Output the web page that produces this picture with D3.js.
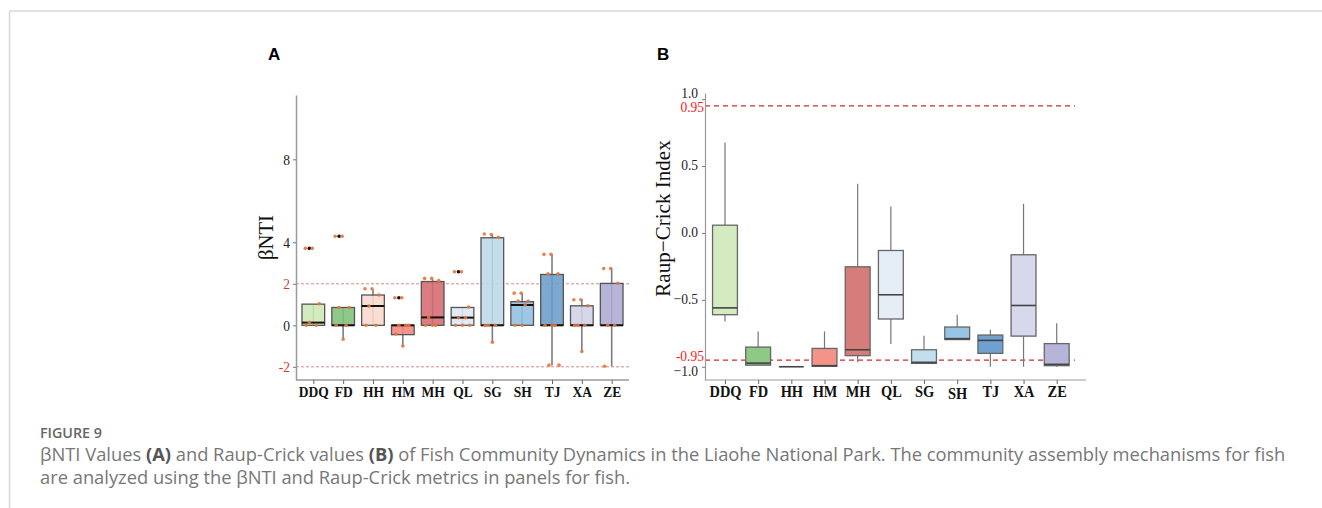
<!DOCTYPE html>
<html>
<head>
<meta charset="utf-8">
<script src="https://cdn.jsdelivr.net/npm/d3@7/dist/d3.min.js"></script>
<style>
  html, body { margin: 0; padding: 0; background: #fff; }
  svg { display: block; }
</style>
</head>
<body>
<svg id="fig" width="1322" height="508"></svg>
<script>
// Sampling sites
const categories = ["DDQ", "FD", "HH", "HM", "MH", "QL", "SG", "SH", "TJ", "XA", "ZE"];

// Panel A: βNTI box statistics per site
const ntiLow    = [0,    -0.67, 0,    -1.02, 0,    0,    -0.82, 0,    -1.94, -1.26, -1.98];
const ntiQ1     = [0,     0,    0,    -0.45, 0,    0,     0,    0,     0,     0,     0];
const ntiMedian = [0.13,  0,    0.93,  0,    0.38, 0.37,  0,    0.98,  0,     0,     0];
const ntiQ3     = [1.02,  0.86, 1.46,  0,    2.11, 0.86,  4.22, 1.14,  2.45,  0.94,  2.02];
const ntiHigh   = [1.02,  0.86, 1.74,  0,    2.24, 0.86,  4.37, 1.54,  3.42,  1.25,  2.74];
const ntiOutliers = [[3.71], [4.29], [], [1.33], [], [2.58], [], [], [], [], []];
// Panel A: individual βNTI values per site
const ntiPoints = [
  [3.71, 3.71, 1.04, 0.15, 0, 0],
  [4.29, 4.29, 0.86, 0.86, 0, 0, -0.67],
  [1.76, 1.76, 1.46, 0.93, 0, 0],
  [1.33, 1.33, 0, 0, 0, -0.42, -1.0],
  [2.26, 2.26, 2.16, 0.38, 0, 0, 0],
  [2.58, 2.58, 0.88, 0.37, 0.37, 0, 0, 0],
  [4.40, 4.37, 4.24, 0, 0, 0, -0.82],
  [1.55, 1.55, 1.17, 1.17, 0.99, 0, 0],
  [3.42, 3.42, 2.48, 2.48, 0, 0, 0, -1.92, -1.92],
  [1.23, 1.23, 0.94, 0, 0, 0, -1.26],
  [2.74, 2.74, 2.03, 0, 0, -1.97]
];
const ntiTicks = [-2, 0, 2, 4, 8];
const ntiThresholds = [-2, 2];

// Panel B: Raup–Crick box statistics per site
const rcLow    = [-0.661, -0.99,  -1.0, -0.997, -0.967, -0.83,  -0.975, -0.80,  -1.0,   -1.0,   -1.0];
const rcQ1     = [-0.611, -0.988, -1.0, -0.997, -0.917, -0.643, -0.975, -0.797, -0.90,  -0.771, -0.992];
const rcMedian = [-0.56,  -0.973, -1.0, -0.992, -0.873, -0.462, -0.967, -0.79,  -0.803, -0.542, -0.982];
const rcQ3     = [0.058,  -0.853, -1.0, -0.863, -0.253, -0.131, -0.873, -0.703, -0.763, -0.163, -0.827];
const rcHigh   = [0.676,  -0.736, -1.0, -0.736,  0.367,  0.198, -0.768, -0.611, -0.723,  0.218, -0.675];
const rcTicks = [-1.0, -0.5, 0.0, 0.5, 1.0];
const rcTickLabels = ["\u22121.0", "\u22120.5", "0.0", "0.5", "1.0"];
const rcThresholds = [-0.95, 0.95];
const rcThresholdLabels = ["-0.95", "0.95"];

// Site colours
const fillA = ["#cde8b5", "#80c27a", "#fbdacd", "#f2857a", "#d56a70", "#dce8f3",
               "#bcd8ea", "#8fbfe0", "#6b9dcb", "#d0d1e7", "#aeaad3"];
const fillB = ["#d3ebbf", "#8ec985", "#d9d9d9", "#f5938a", "#d67d7b", "#e5edf7",
               "#c3dfef", "#98c5e5", "#6fa0d0", "#d8d8ec", "#b6b4d9"];

const svg = d3.select("#fig");
const serif = "'Liberation Serif', 'DejaVu Serif', serif";
const sans = "'Liberation Sans', Arial, sans-serif";
const stretch = 1.12;   // axis lettering is drawn slightly tall

// resize a text element so its rendered width matches a target width
function fitWidth(sel, target) {
  const fs = parseFloat(sel.attr("font-size"));
  const w = sel.node().getBBox().width;
  const nf = w > 0 ? fs * target / w : fs;
  sel.attr("font-size", nf);
  return nf;
}

// Page frame
svg.append("line").attr("x1", 9.5).attr("x2", 1322).attr("y1", 11).attr("y2", 11)
  .attr("stroke", "#d9d9d9").attr("stroke-width", 1.5);
svg.append("line").attr("x1", 9.5).attr("x2", 9.5).attr("y1", 11).attr("y2", 508)
  .attr("stroke", "#d9d9d9").attr("stroke-width", 1.5);

// ---------- Panel A ----------
const xA = d3.scalePoint().domain(categories).range([298.4, 626.6]).padding(0.5);
const yA = d3.scaleLinear().domain([-2.636, 11.1]).range([380, 95]);
const bwA = xA.step() * 0.76;
const gA = svg.append("g");

gA.append("text").attr("x", 268).attr("y", 60).text("A")
  .attr("font-family", sans).attr("font-weight", "bold").attr("font-size", 17);

// threshold lines
gA.selectAll("line.thr").data(ntiThresholds).join("line")
  .attr("x1", 296).attr("x2", 629)
  .attr("y1", d => yA(d)).attr("y2", d => yA(d))
  .attr("stroke", "#d98a8a").attr("stroke-width", 1).attr("stroke-dasharray", "3,2");

// axes
const axA = gA.append("g").attr("transform", "translate(296,0)")
  .call(d3.axisLeft(yA).tickValues(ntiTicks).tickFormat(d => String(d)).tickSize(3).tickPadding(3).tickSizeOuter(0));
axA.select(".domain").attr("stroke", "#9a9a9a").attr("stroke-width", 1.5);
axA.selectAll(".tick line").attr("stroke", "#777");
axA.selectAll(".tick text").attr("font-family", serif).attr("font-size", 13.5)
  .attr("fill", d => ntiThresholds.includes(d) ? "#d03a3a" : "#222")
  .attr("dy", 0).attr("transform", `translate(0,4.8) scale(1,${stretch})`);

const axAx = gA.append("g").attr("transform", "translate(0,380)")
  .call(d3.axisBottom(xA).tickSize(4).tickPadding(4).tickSizeOuter(0));
axAx.select(".domain").attr("stroke", "#9a9a9a").attr("stroke-width", 1.5)
  .attr("d", "M296,0H629");
axAx.selectAll(".tick line").attr("stroke", "#666");
axAx.selectAll(".tick text").attr("font-family", serif).attr("font-size", 13.5)
  .attr("font-weight", "bold").attr("fill", "#111");
{
  const fs = fitWidth(axAx.select(".tick text"), 30);
  axAx.selectAll(".tick text").attr("font-size", fs)
    .attr("y", 0).attr("dy", 0).attr("transform", `translate(0,17) scale(1,${stretch})`);
}

const yLabA = gA.append("text").attr("transform", `translate(273,237.5) rotate(-90)`)
  .attr("text-anchor", "middle").attr("font-family", serif).attr("font-size", 21)
  .attr("fill", "#111").text("βNTI");
fitWidth(yLabA, 45);

// boxes
const boxesA = gA.selectAll("g.box").data(categories).join("g")
  .attr("transform", d => `translate(${xA(d)},0)`);
boxesA.append("line")
  .attr("y1", (d, i) => yA(ntiLow[i])).attr("y2", (d, i) => yA(ntiHigh[i]))
  .attr("stroke", "#666").attr("stroke-width", 1.6).attr("stroke-opacity", 0.85);
boxesA.append("rect")
  .attr("x", -bwA / 2).attr("width", bwA)
  .attr("y", (d, i) => yA(ntiQ3[i]))
  .attr("height", (d, i) => Math.max(0, yA(ntiQ1[i]) - yA(ntiQ3[i])))
  .attr("fill", (d, i) => fillA[i]).attr("fill-opacity", 0.88)
  .attr("stroke", "#555").attr("stroke-width", 1.3);
boxesA.append("line")
  .attr("x1", -bwA / 2).attr("x2", bwA / 2)
  .attr("y1", (d, i) => yA(ntiMedian[i])).attr("y2", (d, i) => yA(ntiMedian[i]))
  .attr("stroke", "#111").attr("stroke-width", 2);
boxesA.each(function (d, i) {
  const g = d3.select(this);
  g.selectAll("circle.out").data(ntiOutliers[i]).join("circle")
    .attr("cx", -4).attr("cy", v => yA(v)).attr("r", 1.8).attr("fill", "#111");
  g.selectAll("circle.pt").data(ntiPoints[i]).join("circle")
    .attr("cx", (v, j) => ((j * 7) % 17) - 8)
    .attr("cy", v => yA(v)).attr("r", 1.8).attr("fill", "#e5743c").attr("fill-opacity", 0.9);
});

// ---------- Panel B ----------
const xB = d3.scalePoint().domain(categories).range([708.4, 1073.3]).padding(0.5);
const yB = d3.scaleLinear().domain([-1.099, 1.046]).range([380, 93]);
const bwB = xB.step() * 0.75;
const gB = svg.append("g");

gB.append("text").attr("x", 657).attr("y", 60).text("B")
  .attr("font-family", sans).attr("font-weight", "bold").attr("font-size", 17);

gB.selectAll("line.thr").data(rcThresholds).join("line")
  .attr("x1", 705).attr("x2", 1075)
  .attr("y1", d => yB(d)).attr("y2", d => yB(d))
  .attr("stroke", "#d42a2a").attr("stroke-width", 1.2).attr("stroke-dasharray", "5,4");

// baseline offsets of the y tick labels, keeping the end labels clear of the threshold labels
const rcLabelShift = d => d === 1 ? -2 : d === -1 ? 9 : 3.5;
const axB = gB.append("g").attr("transform", "translate(705,0)")
  .call(d3.axisLeft(yB).tickValues(rcTicks).tickFormat((d, i) => rcTickLabels[i]).tickSize(3).tickPadding(4).tickSizeOuter(0));
axB.select(".domain").attr("stroke", "#9a9a9a").attr("stroke-width", 1.2);
axB.selectAll(".tick line").attr("stroke", "#777");
axB.selectAll(".tick text").attr("font-family", serif).attr("font-size", 13.5).attr("fill", "#222")
  .attr("dy", 0).attr("transform", d => `translate(0,${rcLabelShift(d)}) scale(1,${stretch})`);

const rcThrShift = d => d > 0 ? 6.5 : 1.4;
gB.selectAll("text.thr").data(rcThresholds).join("text")
  .attr("text-anchor", "end").attr("font-family", serif).attr("font-size", 13.5)
  .attr("fill", "#ff1a1a")
  .attr("transform", d => `translate(704,${yB(d) + rcThrShift(d)}) scale(1,${stretch})`)
  .text((d, i) => rcThresholdLabels[i]);

const axBx = gB.append("g").attr("transform", "translate(0,380)")
  .call(d3.axisBottom(xB).tickSize(4).tickPadding(4).tickSizeOuter(0));
axBx.select(".domain").attr("stroke", "#9a9a9a").attr("stroke-width", 1.2)
  .attr("d", "M705,0H1086");
axBx.selectAll(".tick line").attr("stroke", "#666");
axBx.selectAll(".tick text").attr("font-family", serif).attr("font-size", 13.5)
  .attr("font-weight", "bold").attr("fill", "#111");
{
  const fs = fitWidth(axBx.select(".tick text"), 32);
  axBx.selectAll(".tick text").attr("font-size", fs)
    .attr("y", 0).attr("dy", 0)
    .attr("transform", d => `translate(0,${d === "SH" ? 19 : 17}) scale(1,${stretch})`);
}

const yLabB = gB.append("text").attr("transform", `translate(670,218.5) rotate(-90)`)
  .attr("text-anchor", "middle").attr("font-family", serif).attr("font-size", 21)
  .attr("fill", "#111").text("Raup\u2212Crick Index");
fitWidth(yLabB, 157);

const boxesB = gB.selectAll("g.box").data(categories).join("g")
  .attr("transform", d => `translate(${xB(d)},0)`);
boxesB.append("line")
  .attr("y1", (d, i) => yB(rcQ3[i])).attr("y2", (d, i) => yB(rcHigh[i]))
  .attr("stroke", "#777").attr("stroke-width", 1.2);
boxesB.append("line")
  .attr("y1", (d, i) => yB(rcQ1[i])).attr("y2", (d, i) => yB(rcLow[i]))
  .attr("stroke", "#777").attr("stroke-width", 1.2);
boxesB.append("rect")
  .attr("x", -bwB / 2).attr("width", bwB)
  .attr("y", (d, i) => yB(rcQ3[i]))
  .attr("height", (d, i) => Math.max(0, yB(rcQ1[i]) - yB(rcQ3[i])))
  .attr("fill", (d, i) => fillB[i])
  .attr("stroke", "#666").attr("stroke-width", 1.3);
boxesB.append("line")
  .attr("x1", -bwB / 2).attr("x2", bwB / 2)
  .attr("y1", (d, i) => yB(rcMedian[i])).attr("y2", (d, i) => yB(rcMedian[i]))
  .attr("stroke", "#444").attr("stroke-width", 1.6);

// ---------- Caption ----------
const capFont = "'Open Sans', 'Noto Sans', sans-serif";
const capHead = svg.append("text").attr("x", 40).attr("y", 438).attr("font-family", capFont)
  .attr("font-size", 14).attr("font-weight", 600).attr("fill", "#666").text("FIGURE 9");
fitWidth(capHead, 62);

const cap1 = svg.append("text").attr("x", 40).attr("y", 461).attr("font-family", capFont)
  .attr("font-size", 15).attr("fill", "#777");
[["βNTI Values ", 400], ["(A)", 700], [" and Raup-Crick values ", 400], ["(B)", 700],
 [" of Fish Community Dynamics in the Liaohe National Park. The community assembly mechanisms for fish", 400]]
  .forEach(([t, w]) => cap1.append("tspan").attr("font-weight", w).attr("fill", w > 400 ? "#555" : "#777").text(t));

const cap2 = svg.append("text").attr("x", 40).attr("y", 484).attr("font-family", capFont)
  .attr("font-size", 15).attr("fill", "#777")
  .text("are analyzed using the βNTI and Raup-Crick metrics in panels for fish.");

// caption lines share one size, set by the width of the first line
const fsCap = fitWidth(cap1, 1246);
cap2.attr("font-size", fsCap);
</script>
</body>
</html>
